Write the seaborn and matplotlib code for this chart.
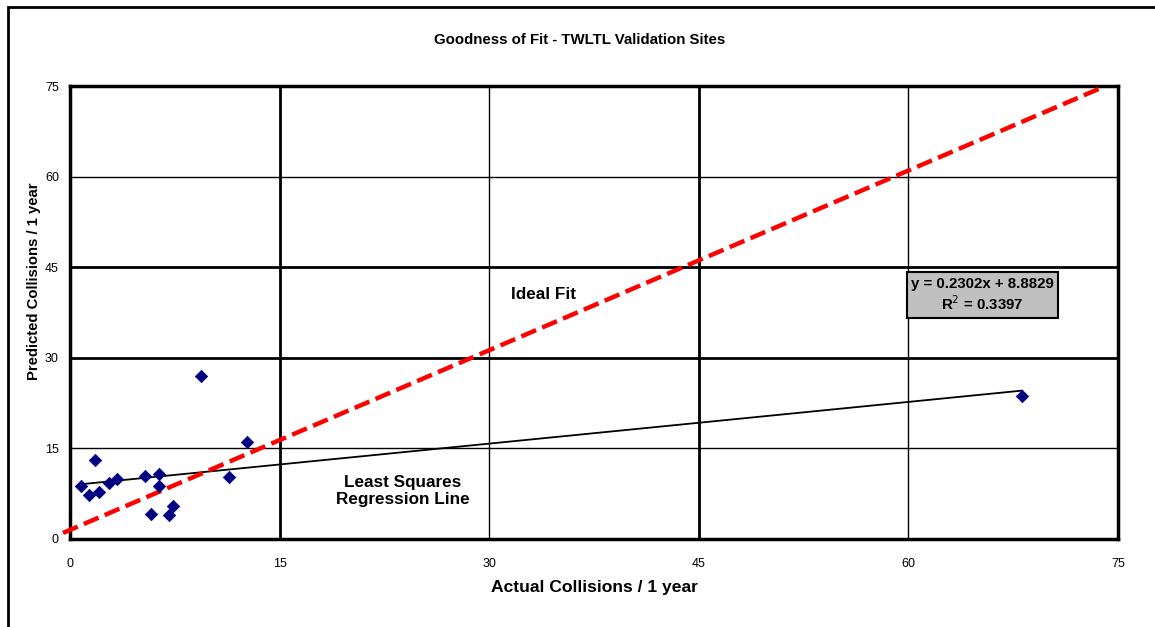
import numpy as np
import pandas as pd
import seaborn as sns
import matplotlib.pyplot as plt
from matplotlib.patches import Rectangle

# dados
actual = [0.77, 1.36, 1.77, 2.08, 2.79, 3.34, 5.37, 5.77, 6.35, 6.35, 7.06, 7.37, 9.38, 11.38, 12.67, 68.15]
predicted = [8.8, 7.2, 13.1, 7.8, 9.3, 9.9, 10.5, 4.2, 10.8, 8.7, 3.9, 5.5, 27.0, 10.3, 16.1, 23.7]
ideal_x = [-0.5, 73.7]
ideal_y = [1.0, 74.6]
slope = 0.2302
intercept = 8.8829
ticks = [0, 15, 30, 45, 60, 75]

pontos = pd.DataFrame({'actual': actual, 'predicted': predicted})
reg_x = [min(actual), max(actual)]
regressao = pd.DataFrame({'x': reg_x, 'y': [slope * v + intercept for v in reg_x]})
ideal = pd.DataFrame({'x': ideal_x, 'y': ideal_y})

sns.set_theme(style='white')
plt.rcParams['font.family'] = ['Liberation Sans', 'DejaVu Sans']
plt.rcParams.update({'text.color': 'black', 'axes.labelcolor': 'black',
                     'xtick.color': 'black', 'ytick.color': 'black'})

fig = plt.figure(figsize=(11.55, 6.27), dpi=100)
ax = fig.add_axes([0.0606, 0.1404, 0.9074, 0.7224])

# linha de regressao e linha ideal
sns.lineplot(data=regressao, x='x', y='y', color='black', linewidth=1.3, ax=ax, zorder=3)
sns.lineplot(data=ideal, x='x', y='y', color='#ff0000', linewidth=3.2, ax=ax, zorder=4)
ax.lines[-1].set_dashes([3.6, 1.5])
ax.lines[-1].set_clip_on(False)
sns.scatterplot(data=pontos, x='actual', y='predicted', marker='D', color='#000080',
                s=40, edgecolor='#000080', ax=ax, zorder=5, clip_on=False)

ax.set_xlim(0, 75)
ax.set_ylim(0, 75)
ax.set_xticks(ticks)
ax.set_yticks(ticks)
ax.tick_params(axis='both', direction='out', length=4, width=1.5, labelsize=9, pad=4)
ax.tick_params(axis='x', pad=10)

ax.grid(True, color='black', linewidth=1)
for v, gl in zip(ticks, ax.get_xgridlines()):
    gl.set_linewidth(2 if v in (15, 45) else 1)
for v, gl in zip(ticks, ax.get_ygridlines()):
    gl.set_linewidth(2 if v in (30, 45) else 1)
ax.set_axisbelow(True)
for s in ax.spines.values():
    s.set_visible(True)
    s.set_color('black')
    s.set_linewidth(2.5)

ax.set_xlabel('Actual Collisions / 1 year', fontsize=12.6, weight='bold', labelpad=7)
ax.set_ylabel('Predicted Collisions / 1 year', fontsize=10.7, weight='bold')
ax.yaxis.set_label_coords(-0.028, 0.57)

fig.text(0.502, 0.937, 'Goodness of Fit - TWLTL Validation Sites', ha='center', va='center',
         fontsize=10.8, weight='bold')

ax.text(33.9, 40.5, 'Ideal Fit', ha='center', va='center', fontsize=12.3, weight='bold')
ax.text(23.8, 7.9, 'Least Squares\nRegression Line', ha='center', va='center', fontsize=12.3,
        weight='bold', linespacing=1.15)
ax.text(65.3, 40.4, 'y = %.4fx + %.4f\nR$^2$ = 0.3397' % (slope, intercept), ha='center', va='center',
        fontsize=10.8, weight='bold', linespacing=1.25, zorder=6,
        bbox=dict(boxstyle='square,pad=0.3', facecolor='#c0c0c0', edgecolor='black', linewidth=1.5))

# moldura da figura
fig.patches.append(Rectangle((8 / 1155, -0.05), 1.2, 1 - 7 / 627 + 0.05, transform=fig.transFigure,
                             fill=False, edgecolor='black', linewidth=2))

fig.savefig('out.png', dpi=100)
